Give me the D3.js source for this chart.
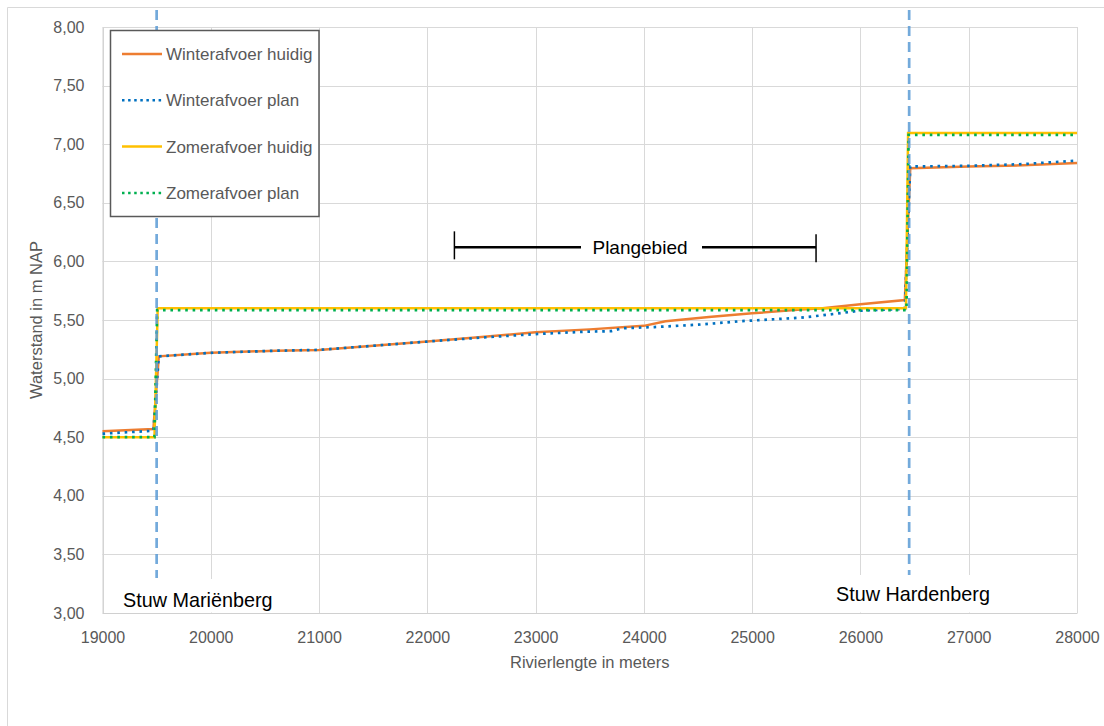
<!DOCTYPE html>
<html>
<head>
<meta charset="utf-8">
<script src="https://cdn.jsdelivr.net/npm/d3@7"></script>
<style>
  body { margin: 0; background: #fff; }
  svg { font-family: "Liberation Sans", Arial, sans-serif; }
</style>
</head>
<body>
<div id="chart"></div>
<script>
// data: [rivierlengte (m), waterstand (m NAP)]
const winterHuidig = [
  [19000, 4.55], [19470, 4.57], [19520, 5.19], [20000, 5.22], [20600, 5.238],
  [21000, 5.245], [21500, 5.28], [22000, 5.316], [22500, 5.355], [23000, 5.395],
  [23500, 5.42], [24000, 5.45], [24200, 5.49], [24600, 5.525], [25000, 5.557],
  [25450, 5.59], [25650, 5.60], [26000, 5.634], [26410, 5.67], [26460, 6.795],
  [27000, 6.81], [27500, 6.82], [28000, 6.84]
];
const winterPlan = [
  [19000, 4.53], [19470, 4.555], [19520, 5.19], [20000, 5.22], [20600, 5.238],
  [21000, 5.245], [21500, 5.28], [22000, 5.316], [22500, 5.35], [23000, 5.38],
  [23450, 5.40], [23700, 5.405], [23800, 5.43], [24100, 5.44], [24500, 5.46],
  [24900, 5.49], [25450, 5.52], [25650, 5.54], [26000, 5.58], [26410, 5.595],
  [26460, 6.81], [27000, 6.815], [27500, 6.83], [28000, 6.86]
];
const zomerHuidig = [
  [19000, 4.50], [19480, 4.50], [19510, 5.60], [26420, 5.60], [26440, 7.095], [28000, 7.095]
];
const zomerPlan = [
  [19000, 4.50], [19480, 4.50], [19505, 5.585], [26425, 5.585], [26445, 7.08], [28000, 7.08]
];

const seriesNames = ['Winterafvoer huidig', 'Winterafvoer plan', 'Zomerafvoer huidig', 'Zomerafvoer plan'];
const xTicks = [19000, 20000, 21000, 22000, 23000, 24000, 25000, 26000, 27000, 28000];
const yTicks = [3, 3.5, 4, 4.5, 5, 5.5, 6, 6.5, 7, 7.5, 8];
const stuwen = [{ name: 'Stuw Mariënberg', x: 19500 }, { name: 'Stuw Hardenberg', x: 26450 }];
const plangebied = { from: 22250, to: 25590, y: 6.12, label: 'Plangebied' };

const W = 1104, H = 726;
const pL = 102.5, pR = 1077, pT = 27, pB = 613;

const svg = d3.select('#chart').append('svg')
  .attr('width', W)
  .attr('height', H);

// chart area border (only top and left fall inside the picture)
svg.append('path')
  .attr('d', `M7.5,${H}V7.5H${W}`)
  .attr('fill', 'none')
  .attr('stroke', '#d9d9d9');

const x = d3.scaleLinear().domain([19000, 28000]).range([pL, pR]);
const y = d3.scaleLinear().domain([3, 8]).range([pB, pT]);

const nl = d3.formatLocale({ decimal: ',', thousands: '.', grouping: [3], currency: ['€', ''] });
const yFmt = nl.format('.2f');

// gridlines
svg.append('g')
  .selectAll('line')
  .data(yTicks)
  .join('line')
  .attr('x1', pL).attr('x2', pR)
  .attr('y1', d => Math.round(y(d)) + 0.5).attr('y2', d => Math.round(y(d)) + 0.5)
  .attr('stroke', '#d9d9d9');
svg.append('g')
  .selectAll('line')
  .data(xTicks)
  .join('line')
  .attr('y1', pT).attr('y2', pB)
  .attr('x1', d => Math.round(x(d)) + 0.5).attr('x2', d => Math.round(x(d)) + 0.5)
  .attr('stroke', '#d9d9d9');

// axes (labels only, Excel style)
const yAxis = svg.append('g')
  .attr('transform', `translate(${pL},0)`)
  .call(d3.axisLeft(y).tickValues(yTicks).tickFormat(yFmt).tickSize(0).tickPadding(18));
yAxis.select('.domain').attr('stroke', '#d0d0d0');
yAxis.selectAll('text').attr('fill', '#595959').attr('font-size', 16)
  .attr('font-family', '"Liberation Sans", Arial, sans-serif');

const xAxis = svg.append('g')
  .attr('transform', `translate(0,${pB})`)
  .call(d3.axisBottom(x).tickValues(xTicks).tickFormat(d3.format('d')).tickSize(0).tickPadding(19));
xAxis.select('.domain').attr('stroke', '#d0d0d0');
xAxis.selectAll('text').attr('fill', '#595959').attr('font-size', 16)
  .attr('font-family', '"Liberation Sans", Arial, sans-serif');

// axis titles
svg.append('text')
  .attr('x', (pL + pR) / 2).attr('y', 668)
  .attr('text-anchor', 'middle')
  .attr('fill', '#595959').attr('font-size', 16.5)
  .text('Rivierlengte in meters');
svg.append('text')
  .attr('transform', `translate(42,${(pT + pB) / 2}) rotate(-90)`)
  .attr('text-anchor', 'middle')
  .attr('fill', '#595959').attr('font-size', 16.5)
  .text('Waterstand in m NAP');

// series
const line = d3.line().x(d => x(d[0])).y(d => y(d[1]));
const styles = [
  { data: winterHuidig, color: '#ed7d31', dash: null },
  { data: winterPlan, color: '#0070c0', dash: '2.6 4.8' },
  { data: zomerHuidig, color: '#ffc000', dash: null },
  { data: zomerPlan, color: '#00b050', dash: '2.6 4.8' }
];
svg.append('g')
  .selectAll('path')
  .data(styles)
  .join('path')
  .attr('d', d => line(d.data))
  .attr('fill', 'none')
  .attr('stroke', d => d.color)
  .attr('stroke-width', d => d.dash ? 2.7 : 2.5)
  .attr('stroke-dasharray', d => d.dash);

// stuw lines
svg.append('g')
  .selectAll('line')
  .data(stuwen)
  .join('line')
  .attr('x1', d => x(d.x)).attr('x2', d => x(d.x))
  .attr('y1', 10).attr('y2', 578)
  .attr('stroke', '#5b9bd5')
  .attr('stroke-opacity', 0.85)
  .attr('stroke-width', 2.7)
  .attr('stroke-dasharray', '10 6');

// stuw labels in white boxes
const boxes = [
  { x: 115, y: 579, w: 175, tx: 123, ty: 607 },
  { x: 828, y: 575, w: 172, tx: 836, ty: 601 }
];
stuwen.forEach((s, i) => {
  const b = boxes[i];
  svg.append('rect')
    .attr('x', b.x).attr('y', b.y)
    .attr('width', b.w).attr('height', pB - b.y - 0.5)
    .attr('fill', '#fff');
  svg.append('text')
    .attr('x', b.tx).attr('y', b.ty)
    .attr('fill', '#000').attr('font-size', 19.8)
    .text(s.name);
});

// plangebied annotation
const py = y(plangebied.y);
const pg = svg.append('g').attr('stroke', '#000').attr('stroke-width', 2.5);
pg.append('line').attr('x1', x(plangebied.from)).attr('x2', 581).attr('y1', py).attr('y2', py);
pg.append('line').attr('x1', 702).attr('x2', x(plangebied.to)).attr('y1', py).attr('y2', py);
pg.append('line').attr('x1', x(plangebied.from)).attr('x2', x(plangebied.from))
  .attr('y1', py - 16).attr('y2', py + 12).attr('stroke-width', 1.5);
pg.append('line').attr('x1', x(plangebied.to)).attr('x2', x(plangebied.to))
  .attr('y1', py - 13).attr('y2', py + 15).attr('stroke-width', 1.5);
svg.append('text')
  .attr('x', 640).attr('y', py + 6.5)
  .attr('text-anchor', 'middle')
  .attr('fill', '#000').attr('font-size', 19)
  .text(plangebied.label);

// legend
const legend = svg.append('g');
legend.append('rect')
  .attr('x', 110.5).attr('y', 30.5)
  .attr('width', 208.5).attr('height', 186)
  .attr('fill', '#fff')
  .attr('stroke', '#595959')
  .attr('stroke-width', 1.5);
const rows = legend.selectAll('g.row')
  .data(styles)
  .join('g')
  .attr('transform', (d, i) => `translate(0,${54 + i * 46.3})`);
rows.append('line')
  .attr('x1', 122).attr('x2', 162)
  .attr('stroke', d => d.color)
  .attr('stroke-width', 2.5)
  .attr('stroke-dasharray', d => d.dash ? '2.5 3.6' : null);
rows.append('text')
  .attr('x', 166).attr('y', 6)
  .attr('fill', '#595959').attr('font-size', 17)
  .text((d, i) => seriesNames[i]);
</script>
</body>
</html>
